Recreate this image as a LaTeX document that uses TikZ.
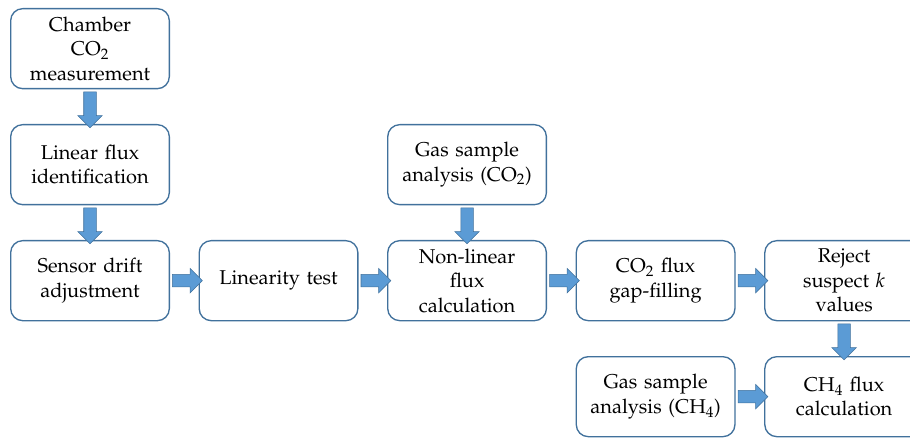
\documentclass[tikz,border=0pt]{standalone}
\usepackage[T1]{fontenc}
\usepackage{mathpazo}
\usepackage{tikz}
\usetikzlibrary{calc,positioning,shapes.arrows}
\definecolor{boxline}{HTML}{41719C}
\definecolor{arrowfill}{HTML}{5B9BD5}
\tikzstyle{stage}=[
  rectangle,
  rounded corners=9pt,
  draw=boxline,
  line width=1pt,
  fill=white,
  font={\fontsize{15}{18.4}\selectfont},
  inner sep=0pt,
  outer sep=0pt,
  minimum height=60pt,
  minimum width=119pt,
  text width=113pt,
  align=center,
]
\tikzstyle{fatarrow}=[
  single arrow,
  draw=boxline,
  fill=arrowfill,
  line width=0.4pt,
  inner xsep=0pt,
  inner ysep=4.5pt,
  single arrow head extend=4.5pt,
  minimum width=0pt,
  minimum height=22.4pt,
  outer sep=0pt,
]
\tikzset{
  node distance=27pt and 22.4pt,
}

\begin{document}
\begin{tikzpicture}
      \useasboundingbox (0,0) rectangle (682.5pt,-328.5pt);
      \node [stage, anchor=north west] (CHAMBER) at (8pt,-6.5pt) {Chamber\\CO$_2$\\measurement};
      \node [stage, below=of CHAMBER] (LINEAR) {Linear flux\\identification};
      \node [stage, below=of LINEAR] (DRIFT) {Sensor drift\\adjustment};
      \node [stage, right=of DRIFT] (LINTEST) {Linearity test};
      \node [stage, right=of LINTEST] (NONLIN) {Non-linear\\flux\\calculation};
      \node [stage, above=of NONLIN] (GASCO) {Gas sample\\analysis (CO$_2$)};
      \node [stage, right=of NONLIN] (GAPFILL) {CO$_2$ flux\\gap-filling};
      \node [stage, right=of GAPFILL] (REJECT) {Reject\\suspect $k$\\values};
      \node [stage, below=of GAPFILL] (GASCH) {Gas sample\\analysis (CH$_4$)};
      \node [stage, right=of GASCH] (CHFLUX) {CH$_4$ flux\\calculation};
      % vertical arrows
      \node [fatarrow, rotate=-90, minimum height=27pt] (A1) at ($(CHAMBER.south)!.5!(LINEAR.north)$) {};
      \node [fatarrow, rotate=-90, minimum height=27pt] (A2) at ($(LINEAR.south)!.5!(DRIFT.north)$) {};
      \node [fatarrow, rotate=-90, minimum height=27pt] (A3) at ($(GASCO.south)!.5!(NONLIN.north)$) {};
      \node [fatarrow, rotate=-90, minimum height=27pt] (A4) at ($(REJECT.south)!.5!(CHFLUX.north)$) {};
      % horizontal arrows
      \node [fatarrow] (B1) at ($(DRIFT.east)!.5!(LINTEST.west)$) {};
      \node [fatarrow] (B2) at ($(LINTEST.east)!.5!(NONLIN.west)$) {};
      \node [fatarrow] (B3) at ($(NONLIN.east)!.5!(GAPFILL.west)$) {};
      \node [fatarrow] (B4) at ($(GAPFILL.east)!.5!(REJECT.west)$) {};
      \node [fatarrow] (B5) at ($(GASCH.east)!.5!(CHFLUX.west)$) {};
    \end{tikzpicture}
\end{document}
